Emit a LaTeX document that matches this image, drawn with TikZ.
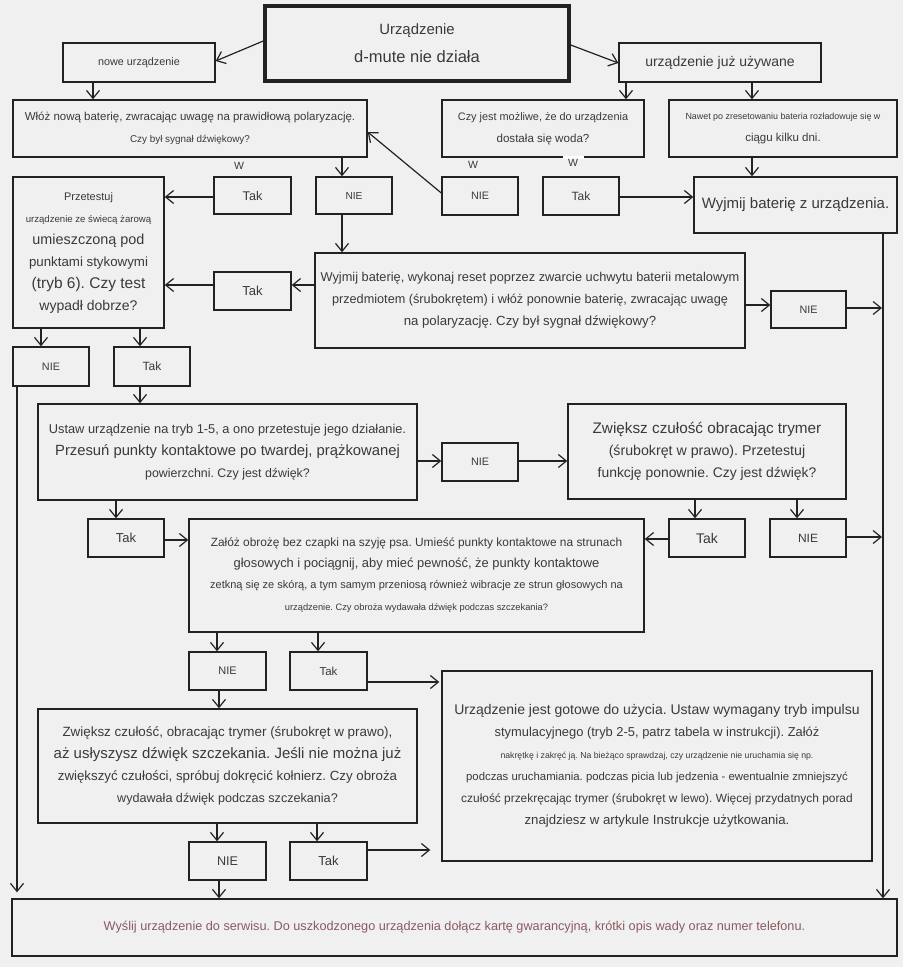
\documentclass[tikz,border=0pt]{standalone}
\usepackage{fontspec}
\setmainfont{Liberation Sans}
\usetikzlibrary{arrows.meta}
\definecolor{bgc}{HTML}{F0F0F0}
\definecolor{ink}{HTML}{222222}
\definecolor{txt}{HTML}{3A3A3A}
\definecolor{serwtxt}{HTML}{8A5A62}
\newcommand\fs[1]{\fontsize{#1}{22}\selectfont}
\frenchspacing
\begin{document}
\begin{tikzpicture}[x=1pt,y=-1pt,
  box/.style={draw=ink, line width=1.4pt, rectangle, inner sep=0pt, text=txt, align=center, font=\fs{11}},
  arr/.style={draw=ink, line width=1.2pt, -{Straight Barb[length=8pt,width=13pt,line width=1.2pt]}},
  wlab/.style={text=txt, inner sep=1pt, font=\fs{10.5}}]
\fill[bgc] (0,0) rectangle (903,967);
\useasboundingbox (0,0) rectangle (903,967);

% boxes
\node[box, minimum width=304pt, minimum height=75pt, line width=3.5pt] (title) at (417,43.5) {\fs{14.9}Urządzenie\\[6pt]\fs{16.5}d-mute nie działa};
\node[box, minimum width=152pt, minimum height=39pt] (nowe) at (139,62.5) {\fs{10.8}nowe urządzenie};
\node[box, minimum width=202pt, minimum height=39pt] (used) at (720,62.5) {\fs{14}urządzenie już używane};
\node[box, minimum width=354pt, minimum height=57pt] (wloz) at (190,128.5) {\fs{11.5}Włóż nową baterię, zwracając uwagę na prawidłową polaryzację.\\\fs{9.9}Czy był sygnał dźwiękowy?};
\node[box, minimum width=202pt, minimum height=57pt] (czy) at (543,128.5) {\fs{10.9}Czy jest możliwe, że do urządzenia\\\fs{11.6}dostała się woda?};
\node[box, minimum width=228pt, minimum height=57pt] (nawet) at (783,128.5) {\fs{8.9}Nawet po zresetowaniu bateria rozładowuje się w\\\fs{11.5}ciągu kilku dni.};
\fill[white] (563,155.5) rectangle (584,159);

\node[box, minimum width=77pt, minimum height=37pt] (tak1) at (252.5,195.5) {\fs{12.6}Tak};
\node[box, minimum width=76pt, minimum height=37pt] (nie1) at (354,195.5) {\fs{10.2}NIE};
\node[box, minimum width=76pt, minimum height=38pt] (niew) at (480,196) {\fs{10.8}NIE};
\node[box, minimum width=76pt, minimum height=38pt] (takw) at (581,196) {\fs{12}Tak};
\node[box, minimum width=203pt, minimum height=56pt] (wyjmij) at (795.5,205) {\fs{15}Wyjmij baterię z urządzenia.};

\node[box, minimum width=151pt, minimum height=151pt] (przet) at (88.5,252.5) {\fs{11}Przetestuj\\\fs{9.6}urządzenie ze świecą żarową\\\fs{14.4}umieszczoną pod\\\fs{13.3}punktami stykowymi\\\fs{15.5}(tryb 6). Czy test\\\fs{14}wypadł dobrze?};
\node[box, minimum width=77pt, minimum height=38pt] (tak2) at (252.5,291) {\fs{13}Tak};
\node[box, minimum width=430pt, minimum height=95pt] (reset) at (530,300.5) {\fs{12.8}Wyjmij baterię, wykonaj reset poprzez zwarcie uchwytu baterii metalowym\\\fs{12.7}przedmiotem (śrubokrętem) i włóż ponownie baterię, zwracając uwagę\\\fs{13.2}na polaryzację. Czy był sygnał dźwiękowy?};
\node[box, minimum width=75pt, minimum height=37pt] (nie2) at (808.5,309.5) {\fs{10.8}NIE};

\node[box, minimum width=76pt, minimum height=39pt] (nie3) at (51,366.5) {\fs{10.8}NIE};
\node[box, minimum width=76pt, minimum height=39pt] (tak3) at (152,366.5) {\fs{12}Tak};

\node[box, minimum width=379pt, minimum height=96pt] (ustaw) at (227.5,452) {\fs{12.8}Ustaw urządzenie na tryb 1-5, a ono przetestuje jego działanie.\\\fs{14.8}Przesuń punkty kontaktowe po twardej, prążkowanej\\\fs{12.4}powierzchni. Czy jest dźwięk?};
\node[box, minimum width=76pt, minimum height=38pt] (nie4) at (480,462) {\fs{10.8}NIE};
\node[box, minimum width=278pt, minimum height=95pt] (zwieksz) at (707,451.5) {\fs{15.3}Zwiększ czułość obracając trymer\\\fs{14.2}(śrubokręt w prawo). Przetestuj\\\fs{13.9}funkcję ponownie. Czy jest dźwięk?};

\node[box, minimum width=76pt, minimum height=38pt] (tak4) at (126,538) {\fs{13}Tak};
\node[box, minimum width=455pt, minimum height=113pt] (zaloz) at (416.5,575.5) {\fs{11.9}Załóż obrożę bez czapki na szyję psa. Umieść punkty kontaktowe na strunach\\[-1pt]\fs{12.9}głosowych i pociągnij, aby mieć pewność, że punkty kontaktowe\\[-1pt]\fs{11}zetkną się ze skórą, a tym samym przeniosą również wibracje ze strun głosowych na\\\fs{9.3}urządzenie. Czy obroża wydawała dźwięk podczas szczekania?};
\node[box, minimum width=76pt, minimum height=38pt] (tak5) at (707,538) {\fs{14}Tak};
\node[box, minimum width=76pt, minimum height=38pt] (nie5) at (808,538) {\fs{12}NIE};

\node[box, minimum width=77pt, minimum height=38pt] (nie6) at (227.5,671) {\fs{11}NIE};
\node[box, minimum width=77pt, minimum height=38pt] (tak6) at (328.5,671) {\fs{11.5}Tak};
\node[box, minimum width=430pt, minimum height=190pt] (gotowe) at (657,766) {\fs{14}Urządzenie jest gotowe do użycia. Ustaw wymagany tryb impulsu\\\fs{12.9}stymulacyjnego (tryb 2-5, patrz tabela w instrukcji). Załóż\\\fs{8.7}nakrętkę i zakręć ją. Na bieżąco sprawdzaj, czy urządzenie nie uruchamia się np.\\\fs{11.35}podczas uruchamiania. podczas picia lub jedzenia - ewentualnie zmniejszyć\\\fs{11.9}czułość przekręcając trymer (śrubokręt w lewo). Więcej przydatnych porad\\\fs{13.2}znajdziesz w artykule Instrukcje użytkowania.};
\node[box, minimum width=379pt, minimum height=114pt] (zw2) at (227.5,766) {\fs{13.4}Zwiększ czułość, obracając trymer (śrubokręt w prawo),\\\fs{15}aż usłyszysz dźwięk szczekania. Jeśli nie można już\\\fs{13.3}zwiększyć czułości, spróbuj dokręcić kołnierz. Czy obroża\\\fs{12.6}wydawała dźwięk podczas szczekania?};
\node[box, minimum width=77pt, minimum height=38pt] (nie7) at (227.5,861) {\fs{12.6}NIE};
\node[box, minimum width=77pt, minimum height=38pt] (tak7) at (328.5,861) {\fs{13}Tak};

\node[box, minimum width=885pt, minimum height=57pt, text=serwtxt] (serwis) at (454.5,927.5) {\fs{12.7}Wyślij urządzenie do serwisu. Do uszkodzonego urządzenia dołącz kartę gwarancyjną, krótki opis wady oraz numer telefonu.};

% W labels
\node[wlab] (w1) at (239,166) {W};
\node[wlab] (w2) at (473,165) {W};
\node[wlab] (w3) at (573,163) {W};

% free ends on the right line
\coordinate (r1) at (882,308);
\coordinate (r2) at (882,537);

% connectors
\draw[arr] (title.west |- 0,41) -- (nowe.east |- 0,61);
\draw[arr] (title.east |- 0,45) -- (used.west |- 0,63);
\draw[arr] (nowe.south -| 93,0) -- (wloz.north -| 93,0);
\draw[arr] (used.south -| 626,0) -- (czy.north -| 626,0);
\draw[arr] (used.south -| 752,0) -- (nawet.north -| 752,0);
\draw[arr] (wloz.south -| 342,0) -- (nie1.north -| 342,0);
\draw[arr] (tak1.west |- 0,197) -- (przet.east |- 0,197);
\draw[arr] (niew.west |- 0,193) -- (wloz.east |- 0,132);
\draw[arr] (takw.east |- 0,197) -- (wyjmij.west |- 0,197);
\draw[arr] (nawet.south -| 752,0) -- (wyjmij.north -| 752,0);
\draw[arr] (nie1.south -| 342,0) -- (reset.north -| 342,0);
\draw[arr] (reset.west |- 0,285) -- (tak2.east |- 0,285);
\draw[arr] (tak2.west |- 0,285) -- (przet.east |- 0,285);
\draw[arr] (reset.east |- 0,305) -- (nie2.west |- 0,305);
\draw[arr] (nie2.east |- 0,308) -- (r1);
\draw[arr] (wyjmij.south -| 883,0) -- (serwis.north -| 883,0);
\draw[arr] (przet.south -| 41,0) -- (nie3.north -| 41,0);
\draw[arr] (przet.south -| 140,0) -- (tak3.north -| 140,0);
\draw[arr, shorten >=6pt] (nie3.south -| 17,0) -- (serwis.north -| 17,0);
\draw[arr] (tak3.south -| 140,0) -- (ustaw.north -| 140,0);
\draw[arr] (ustaw.east |- 0,461) -- (nie4.west |- 0,461);
\draw[arr] (nie4.east |- 0,461) -- (zwieksz.west |- 0,461);
\draw[arr] (ustaw.south -| 116,0) -- (tak4.north -| 116,0);
\draw[arr] (tak4.east |- 0,540) -- (zaloz.west |- 0,540);
\draw[arr] (zwieksz.south -| 695,0) -- (tak5.north -| 695,0);
\draw[arr] (zwieksz.south -| 797,0) -- (nie5.north -| 797,0);
\draw[arr] (tak5.west |- 0,539) -- (zaloz.east |- 0,539);
\draw[arr] (nie5.east |- 0,537) -- (r2);
\draw[arr] (zaloz.south -| 217,0) -- (nie6.north -| 217,0);
\draw[arr] (zaloz.south -| 318,0) -- (tak6.north -| 318,0);
\draw[arr, shorten >=2pt] (tak6.east |- 0,682) -- (gotowe.west |- 0,682);
\draw[arr] (nie6.south -| 219,0) -- (zw2.north -| 219,0);
\draw[arr] (zw2.south -| 217,0) -- (nie7.north -| 217,0);
\draw[arr] (zw2.south -| 317,0) -- (tak7.north -| 317,0);
\draw[arr, shorten >=11pt] (tak7.east |- 0,850) -- (gotowe.west |- 0,850);
\draw[arr] (nie7.south -| 219,0) -- (serwis.north -| 219,0);
\end{tikzpicture}
\end{document}
